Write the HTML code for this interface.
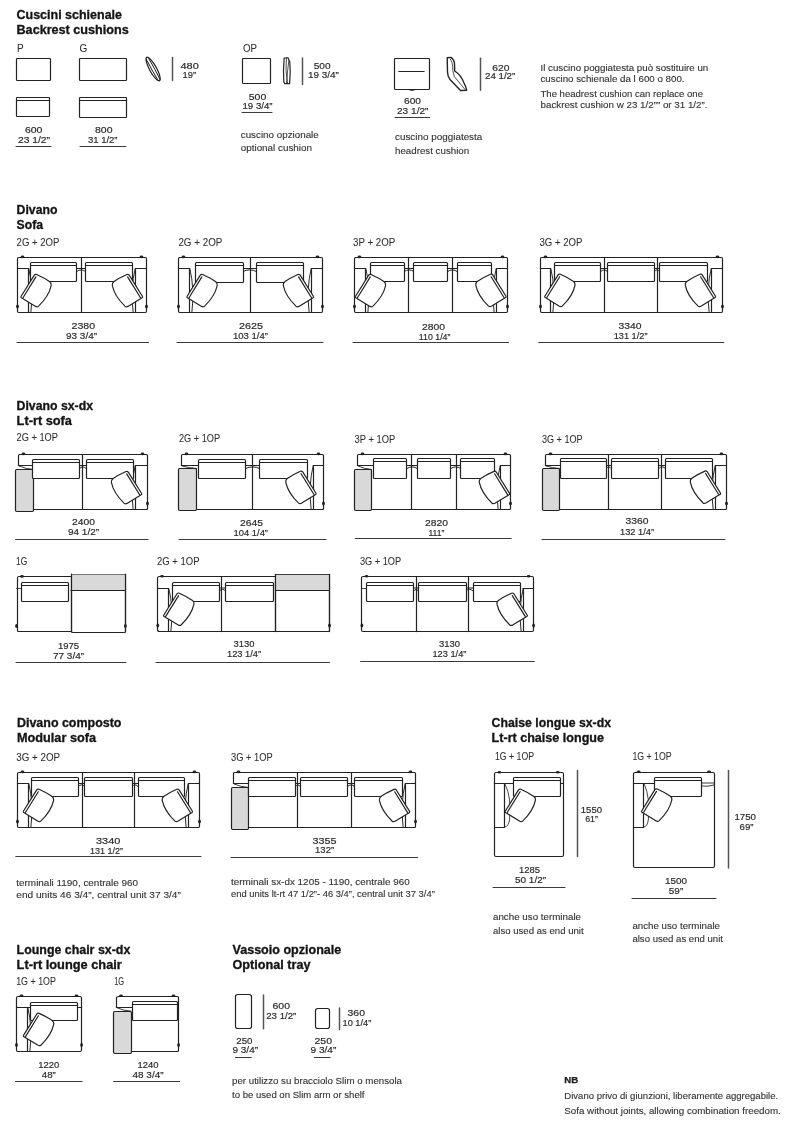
<!DOCTYPE html>
<html><head><meta charset="utf-8"><title>Sofa sizes</title>
<style>
html,body{margin:0;padding:0;background:#fff;}
body{width:799px;height:1129px;overflow:hidden;}
svg{display:block;font-family:"Liberation Sans",sans-serif;will-change:transform;}
</style></head><body>
<svg width="799" height="1129" viewBox="0 0 799 1129">
<rect width="799" height="1129" fill="#fff"/>
<g stroke-linecap="round" stroke-linejoin="round">
<rect x="16.5" y="58.5" width="34" height="22" rx="0.8" fill="none" stroke="#222222" stroke-width="1.2"/>
<rect x="79.5" y="58.5" width="47" height="22" rx="0.8" fill="none" stroke="#222222" stroke-width="1.2"/>
<rect x="16.5" y="97.5" width="33" height="19" rx="0.8" fill="none" stroke="#222222" stroke-width="1.2"/>
<line x1="16.8" y1="100.5" x2="49.2" y2="100.5" stroke="#222222" stroke-width="1.2"/>
<rect x="79.5" y="97.5" width="47" height="20" rx="0.8" fill="none" stroke="#222222" stroke-width="1.2"/>
<line x1="79.8" y1="100.5" x2="125.7" y2="100.5" stroke="#222222" stroke-width="1.2"/>
<g transform="translate(153.1,69) rotate(61.3)"><ellipse cx="0" cy="0" rx="13.3" ry="3.5" fill="#fff" stroke="#222222" stroke-width="1.25"/><path d="M-11.8,-1.2 Q0,-1.6 12.6,-1.0 M-11.8,1.3 Q0,1.7 12.6,1.1" stroke="#222222" stroke-width="0.9" fill="none"/></g>
<line x1="172.5" y1="57.5" x2="172.5" y2="80.5" stroke="#555" stroke-width="1.5"/>
<line x1="16" y1="146.5" x2="51" y2="146.5" stroke="#3a3a3a" stroke-width="1.1"/>
<line x1="80" y1="146.5" x2="125.75" y2="146.5" stroke="#3a3a3a" stroke-width="1.1"/>
<rect x="242.5" y="58.5" width="28" height="25" rx="0.8" fill="none" stroke="#222222" stroke-width="1.2"/>
<path d="M284.2,58 Q283,70 283.8,82 L284.6,83.6 L289.6,83.6 Q290.8,72 289.8,62 L288,57.8 Z" fill="#fff" stroke="#222222" stroke-width="1.2"/>
<path d="M286.4,58.5 Q285,70 287.5,83 M288.8,61 Q287.2,72 286.6,83" fill="none" stroke="#222222" stroke-width="0.8"/>
<line x1="302.5" y1="58" x2="302.5" y2="84.4" stroke="#555" stroke-width="1.5"/>
<line x1="242" y1="112.5" x2="272" y2="112.5" stroke="#3a3a3a" stroke-width="1.1"/>
<rect x="394.5" y="58.5" width="35" height="31" rx="0.8" fill="none" stroke="#222222" stroke-width="1.2"/>
<path d="M409,89.8 Q412,91.2 415,89.8" fill="none" stroke="#222222" stroke-width="1.0"/>
<line x1="398.8" y1="71.5" x2="424.1" y2="71.5" stroke="#222222" stroke-width="1.2"/>
<path d="M447.2,57.6 L451,57.4 Q454.5,60 454.5,64 L454.7,71 Q461,75 464,83 Q466.5,88 466.6,90.3 L460.5,90.5 L450,79.5 Q447.5,76 447.5,72 Z" fill="#fff" stroke="#222222" stroke-width="1.4"/>
<path d="M450.2,59 Q453,62 452.8,70.5 L454.3,76.5 L465,89.5" fill="none" stroke="#222222" stroke-width="0.8"/>
<line x1="480.5" y1="58.2" x2="480.5" y2="90.3" stroke="#555" stroke-width="1.5"/>
<line x1="395" y1="117.5" x2="429.7" y2="117.5" stroke="#3a3a3a" stroke-width="1.1"/>
<rect x="17.5" y="257.5" width="129" height="55" rx="1.2" fill="none" stroke="#222222" stroke-width="1.2"/>
<line x1="81.5" y1="257.5" x2="81.5" y2="312.5" stroke="#222222" stroke-width="1.2"/>
<line x1="17.5" y1="268.5" x2="28.5" y2="268.5" stroke="#222222" stroke-width="1.2"/>
<line x1="28.5" y1="268.5" x2="28.5" y2="312.5" stroke="#222222" stroke-width="1.2"/>
<path d="M28.9,269 Q33.7,288.3 30.9,312.2" fill="none" stroke="#2a2a2a" stroke-width="1.0"/>
<line x1="135.5" y1="268.5" x2="146.5" y2="268.5" stroke="#222222" stroke-width="1.2"/>
<line x1="135.5" y1="268.5" x2="135.5" y2="312.5" stroke="#222222" stroke-width="1.2"/>
<path d="M135.1,269 Q130.3,288.3 133.1,312.2" fill="none" stroke="#2a2a2a" stroke-width="1.0"/>
<path d="M76.8,268.5 L85.5,268.5 M76.8,271.5 Q81.15,268 85.5,271.5" fill="none" stroke="#222222" stroke-width="1.0"/>
<path d="M30.5,280.5 L30.5,263.5 Q30.5,262.5 31.5,262.5 L75.5,262.5 Q76.5,262.5 76.5,263.5 L76.5,280.5 Q76.5,281.5 75.5,281.5 L31.5,281.5 Q30.5,281.5 30.5,280.5 Z" fill="#fff" stroke="#222222" stroke-width="1.2"/>
<line x1="30.8" y1="265.5" x2="76.2" y2="265.5" stroke="#222222" stroke-width="1.0"/>
<path d="M85.5,280.5 L85.5,263.5 Q85.5,262.5 86.5,262.5 L131.5,262.5 Q132.5,262.5 132.5,263.5 L132.5,280.5 Q132.5,281.5 131.5,281.5 L86.5,281.5 Q85.5,281.5 85.5,280.5 Z" fill="#fff" stroke="#222222" stroke-width="1.2"/>
<line x1="85.8" y1="265.5" x2="132.2" y2="265.5" stroke="#222222" stroke-width="1.0"/>
<ellipse cx="22.5" cy="256.9" rx="1.9" ry="1.3" fill="#222222"/>
<ellipse cx="17.5" cy="306.5" rx="1.4" ry="2.0" fill="#222222"/>
<ellipse cx="141.5" cy="256.9" rx="1.9" ry="1.3" fill="#222222"/>
<ellipse cx="146.5" cy="306.5" rx="1.4" ry="2.0" fill="#222222"/>
<g transform="translate(21,296.5) scale(1.0,1.0)"><path d="M0,0 L13.3,-21.4 Q14.3,-22.6 15.6,-22 Q23.5,-18.5 28.8,-14.8 Q30.6,-13.2 30.2,-11 Q28,-0.5 17.6,9.6 Q16.3,10.8 14.6,9.9 L0.8,1.5 Q-0.6,0.8 0,0 Z" fill="#fff" stroke="#222222" stroke-width="1.2"/><path d="M2.0,1.2 L14.9,-19.6" fill="none" stroke="#222222" stroke-width="1.2"/></g>
<g transform="translate(142.5,296.5) scale(-1.0,1.0)"><path d="M0,0 L13.3,-21.4 Q14.3,-22.6 15.6,-22 Q23.5,-18.5 28.8,-14.8 Q30.6,-13.2 30.2,-11 Q28,-0.5 17.6,9.6 Q16.3,10.8 14.6,9.9 L0.8,1.5 Q-0.6,0.8 0,0 Z" fill="#fff" stroke="#222222" stroke-width="1.2"/><path d="M2.0,1.2 L14.9,-19.6" fill="none" stroke="#222222" stroke-width="1.2"/></g>
<line x1="17" y1="342.5" x2="148.5" y2="342.5" stroke="#3a3a3a" stroke-width="1.1"/>
<rect x="178.5" y="257.5" width="144" height="55" rx="1.2" fill="none" stroke="#222222" stroke-width="1.2"/>
<line x1="250.5" y1="257.5" x2="250.5" y2="312.5" stroke="#222222" stroke-width="1.2"/>
<line x1="178.5" y1="268.5" x2="189.5" y2="268.5" stroke="#222222" stroke-width="1.2"/>
<line x1="189.5" y1="268.5" x2="189.5" y2="312.5" stroke="#222222" stroke-width="1.2"/>
<path d="M189.9,269 Q194.7,288.3 191.9,312.2" fill="none" stroke="#2a2a2a" stroke-width="1.0"/>
<line x1="311.5" y1="268.5" x2="322.5" y2="268.5" stroke="#222222" stroke-width="1.2"/>
<line x1="311.5" y1="268.5" x2="311.5" y2="312.5" stroke="#222222" stroke-width="1.2"/>
<path d="M311.1,269 Q306.3,288.3 309.1,312.2" fill="none" stroke="#2a2a2a" stroke-width="1.0"/>
<path d="M243,268.5 L256.4,268.5 M243,271.5 Q249.7,268 256.4,271.5" fill="none" stroke="#222222" stroke-width="1.0"/>
<path d="M195.5,281.5 L195.5,263.5 Q195.5,262.5 196.5,262.5 L242.5,262.5 Q243.5,262.5 243.5,263.5 L243.5,281.5 Q243.5,282.5 242.5,282.5 L196.5,282.5 Q195.5,282.5 195.5,281.5 Z" fill="#fff" stroke="#222222" stroke-width="1.2"/>
<line x1="195.8" y1="265.5" x2="243.2" y2="265.5" stroke="#222222" stroke-width="1.0"/>
<path d="M256.5,281.5 L256.5,263.5 Q256.5,262.5 257.5,262.5 L302.5,262.5 Q303.5,262.5 303.5,263.5 L303.5,281.5 Q303.5,282.5 302.5,282.5 L257.5,282.5 Q256.5,282.5 256.5,281.5 Z" fill="#fff" stroke="#222222" stroke-width="1.2"/>
<line x1="256.8" y1="265.5" x2="303.2" y2="265.5" stroke="#222222" stroke-width="1.0"/>
<ellipse cx="183.5" cy="256.9" rx="1.9" ry="1.3" fill="#222222"/>
<ellipse cx="178.5" cy="306.5" rx="1.4" ry="2.0" fill="#222222"/>
<ellipse cx="317.5" cy="256.9" rx="1.9" ry="1.3" fill="#222222"/>
<ellipse cx="322.5" cy="306.5" rx="1.4" ry="2.0" fill="#222222"/>
<g transform="translate(187,296.5) scale(1.0,1.0)"><path d="M0,0 L13.3,-21.4 Q14.3,-22.6 15.6,-22 Q23.5,-18.5 28.8,-14.8 Q30.6,-13.2 30.2,-11 Q28,-0.5 17.6,9.6 Q16.3,10.8 14.6,9.9 L0.8,1.5 Q-0.6,0.8 0,0 Z" fill="#fff" stroke="#222222" stroke-width="1.2"/><path d="M2.0,1.2 L14.9,-19.6" fill="none" stroke="#222222" stroke-width="1.2"/></g>
<g transform="translate(313.5,296.5) scale(-1.0,1.0)"><path d="M0,0 L13.3,-21.4 Q14.3,-22.6 15.6,-22 Q23.5,-18.5 28.8,-14.8 Q30.6,-13.2 30.2,-11 Q28,-0.5 17.6,9.6 Q16.3,10.8 14.6,9.9 L0.8,1.5 Q-0.6,0.8 0,0 Z" fill="#fff" stroke="#222222" stroke-width="1.2"/><path d="M2.0,1.2 L14.9,-19.6" fill="none" stroke="#222222" stroke-width="1.2"/></g>
<line x1="177" y1="342.5" x2="323" y2="342.5" stroke="#3a3a3a" stroke-width="1.1"/>
<rect x="354.5" y="257.5" width="153" height="55" rx="1.2" fill="none" stroke="#222222" stroke-width="1.2"/>
<line x1="408.5" y1="257.5" x2="408.5" y2="312.5" stroke="#222222" stroke-width="1.2"/>
<line x1="452.5" y1="257.5" x2="452.5" y2="312.5" stroke="#222222" stroke-width="1.2"/>
<line x1="354.5" y1="268.5" x2="365.5" y2="268.5" stroke="#222222" stroke-width="1.2"/>
<line x1="365.5" y1="268.5" x2="365.5" y2="312.5" stroke="#222222" stroke-width="1.2"/>
<path d="M365.9,269 Q370.7,288.3 367.9,312.2" fill="none" stroke="#2a2a2a" stroke-width="1.0"/>
<line x1="496.5" y1="268.5" x2="507.5" y2="268.5" stroke="#222222" stroke-width="1.2"/>
<line x1="496.5" y1="268.5" x2="496.5" y2="312.5" stroke="#222222" stroke-width="1.2"/>
<path d="M496.1,269 Q491.3,288.3 494.1,312.2" fill="none" stroke="#2a2a2a" stroke-width="1.0"/>
<path d="M404.2,268.5 L413.9,268.5 M404.2,271.5 Q409.05,268 413.9,271.5" fill="none" stroke="#222222" stroke-width="1.0"/>
<path d="M447.7,268.5 L457,268.5 M447.7,271.5 Q452.35,268 457,271.5" fill="none" stroke="#222222" stroke-width="1.0"/>
<path d="M370.5,280.5 L370.5,263.5 Q370.5,262.5 371.5,262.5 L403.5,262.5 Q404.5,262.5 404.5,263.5 L404.5,280.5 Q404.5,281.5 403.5,281.5 L371.5,281.5 Q370.5,281.5 370.5,280.5 Z" fill="#fff" stroke="#222222" stroke-width="1.2"/>
<line x1="370.8" y1="265.5" x2="404.2" y2="265.5" stroke="#222222" stroke-width="1.0"/>
<path d="M413.5,280.5 L413.5,263.5 Q413.5,262.5 414.5,262.5 L446.5,262.5 Q447.5,262.5 447.5,263.5 L447.5,280.5 Q447.5,281.5 446.5,281.5 L414.5,281.5 Q413.5,281.5 413.5,280.5 Z" fill="#fff" stroke="#222222" stroke-width="1.2"/>
<line x1="413.8" y1="265.5" x2="447.2" y2="265.5" stroke="#222222" stroke-width="1.0"/>
<path d="M457.5,280.5 L457.5,263.5 Q457.5,262.5 458.5,262.5 L490.5,262.5 Q491.5,262.5 491.5,263.5 L491.5,280.5 Q491.5,281.5 490.5,281.5 L458.5,281.5 Q457.5,281.5 457.5,280.5 Z" fill="#fff" stroke="#222222" stroke-width="1.2"/>
<line x1="457.8" y1="265.5" x2="491.2" y2="265.5" stroke="#222222" stroke-width="1.0"/>
<ellipse cx="359.5" cy="256.9" rx="1.9" ry="1.3" fill="#222222"/>
<ellipse cx="354.5" cy="306.5" rx="1.4" ry="2.0" fill="#222222"/>
<ellipse cx="502.5" cy="256.9" rx="1.9" ry="1.3" fill="#222222"/>
<ellipse cx="507.5" cy="306.5" rx="1.4" ry="2.0" fill="#222222"/>
<g transform="translate(355.4,296.5) scale(1.0,1.0)"><path d="M0,0 L13.3,-21.4 Q14.3,-22.6 15.6,-22 Q23.5,-18.5 28.8,-14.8 Q30.6,-13.2 30.2,-11 Q28,-0.5 17.6,9.6 Q16.3,10.8 14.6,9.9 L0.8,1.5 Q-0.6,0.8 0,0 Z" fill="#fff" stroke="#222222" stroke-width="1.2"/><path d="M2.0,1.2 L14.9,-19.6" fill="none" stroke="#222222" stroke-width="1.2"/></g>
<g transform="translate(506,296.3) scale(-1.0,1.0)"><path d="M0,0 L13.3,-21.4 Q14.3,-22.6 15.6,-22 Q23.5,-18.5 28.8,-14.8 Q30.6,-13.2 30.2,-11 Q28,-0.5 17.6,9.6 Q16.3,10.8 14.6,9.9 L0.8,1.5 Q-0.6,0.8 0,0 Z" fill="#fff" stroke="#222222" stroke-width="1.2"/><path d="M2.0,1.2 L14.9,-19.6" fill="none" stroke="#222222" stroke-width="1.2"/></g>
<line x1="353" y1="342.5" x2="508.5" y2="342.5" stroke="#3a3a3a" stroke-width="1.1"/>
<rect x="540.5" y="257.5" width="182" height="55" rx="1.2" fill="none" stroke="#222222" stroke-width="1.2"/>
<line x1="604.5" y1="257.5" x2="604.5" y2="312.5" stroke="#222222" stroke-width="1.2"/>
<line x1="657.5" y1="257.5" x2="657.5" y2="312.5" stroke="#222222" stroke-width="1.2"/>
<line x1="540.5" y1="268.5" x2="550.5" y2="268.5" stroke="#222222" stroke-width="1.2"/>
<line x1="550.5" y1="268.5" x2="550.5" y2="312.5" stroke="#222222" stroke-width="1.2"/>
<path d="M550.9,269 Q555.7,288.3 552.9,312.2" fill="none" stroke="#2a2a2a" stroke-width="1.0"/>
<line x1="711.5" y1="268.5" x2="722.5" y2="268.5" stroke="#222222" stroke-width="1.2"/>
<line x1="711.5" y1="268.5" x2="711.5" y2="312.5" stroke="#222222" stroke-width="1.2"/>
<path d="M711.1,269 Q706.3,288.3 709.1,312.2" fill="none" stroke="#2a2a2a" stroke-width="1.0"/>
<path d="M600.75,268.5 L607.5,268.5 M600.75,271.5 Q604.12,268 607.5,271.5" fill="none" stroke="#222222" stroke-width="1.0"/>
<path d="M654.25,268.5 L659.5,268.5 M654.25,271.5 Q656.88,268 659.5,271.5" fill="none" stroke="#222222" stroke-width="1.0"/>
<path d="M554.5,280.5 L554.5,263.5 Q554.5,262.5 555.5,262.5 L599.5,262.5 Q600.5,262.5 600.5,263.5 L600.5,280.5 Q600.5,281.5 599.5,281.5 L555.5,281.5 Q554.5,281.5 554.5,280.5 Z" fill="#fff" stroke="#222222" stroke-width="1.2"/>
<line x1="554.8" y1="265.5" x2="600.2" y2="265.5" stroke="#222222" stroke-width="1.0"/>
<path d="M607.5,280.5 L607.5,263.5 Q607.5,262.5 608.5,262.5 L653.5,262.5 Q654.5,262.5 654.5,263.5 L654.5,280.5 Q654.5,281.5 653.5,281.5 L608.5,281.5 Q607.5,281.5 607.5,280.5 Z" fill="#fff" stroke="#222222" stroke-width="1.2"/>
<line x1="607.8" y1="265.5" x2="654.2" y2="265.5" stroke="#222222" stroke-width="1.0"/>
<path d="M659.5,280.5 L659.5,263.5 Q659.5,262.5 660.5,262.5 L706.5,262.5 Q707.5,262.5 707.5,263.5 L707.5,280.5 Q707.5,281.5 706.5,281.5 L660.5,281.5 Q659.5,281.5 659.5,280.5 Z" fill="#fff" stroke="#222222" stroke-width="1.2"/>
<line x1="659.8" y1="265.5" x2="707.2" y2="265.5" stroke="#222222" stroke-width="1.0"/>
<ellipse cx="545.5" cy="256.9" rx="1.9" ry="1.3" fill="#222222"/>
<ellipse cx="540.5" cy="306.5" rx="1.4" ry="2.0" fill="#222222"/>
<ellipse cx="717.5" cy="256.9" rx="1.9" ry="1.3" fill="#222222"/>
<ellipse cx="722.5" cy="306.5" rx="1.4" ry="2.0" fill="#222222"/>
<g transform="translate(544.8,296.3) scale(1.0,1.0)"><path d="M0,0 L13.3,-21.4 Q14.3,-22.6 15.6,-22 Q23.5,-18.5 28.8,-14.8 Q30.6,-13.2 30.2,-11 Q28,-0.5 17.6,9.6 Q16.3,10.8 14.6,9.9 L0.8,1.5 Q-0.6,0.8 0,0 Z" fill="#fff" stroke="#222222" stroke-width="1.2"/><path d="M2.0,1.2 L14.9,-19.6" fill="none" stroke="#222222" stroke-width="1.2"/></g>
<g transform="translate(715.5,296.3) scale(-1.0,1.0)"><path d="M0,0 L13.3,-21.4 Q14.3,-22.6 15.6,-22 Q23.5,-18.5 28.8,-14.8 Q30.6,-13.2 30.2,-11 Q28,-0.5 17.6,9.6 Q16.3,10.8 14.6,9.9 L0.8,1.5 Q-0.6,0.8 0,0 Z" fill="#fff" stroke="#222222" stroke-width="1.2"/><path d="M2.0,1.2 L14.9,-19.6" fill="none" stroke="#222222" stroke-width="1.2"/></g>
<line x1="538.75" y1="342.5" x2="723.75" y2="342.5" stroke="#3a3a3a" stroke-width="1.1"/>
<path d="M18.5,465.5 L18.5,455.5 Q18.5,454.5 19.5,454.5 L146.5,454.5 Q147.5,454.5 147.5,455.5 L147.5,508.5 Q147.5,509.5 146.5,509.5 L33.5,509.5" fill="none" stroke="#222222" stroke-width="1.2"/>
<line x1="18.5" y1="465.5" x2="32.5" y2="465.5" stroke="#222222" stroke-width="1.2"/>
<path d="M19,466 Q26,469 33.5,469.5" fill="none" stroke="#222222" stroke-width="0.9"/>
<rect x="15.5" y="469.5" width="18" height="42" rx="1.2" fill="#d9d9d9" stroke="#222222" stroke-width="1.2"/>
<line x1="82.5" y1="454.5" x2="82.5" y2="509.5" stroke="#222222" stroke-width="1.2"/>
<line x1="135.5" y1="465.5" x2="147.5" y2="465.5" stroke="#222222" stroke-width="1.2"/>
<line x1="135.5" y1="465.5" x2="135.5" y2="509.5" stroke="#222222" stroke-width="1.2"/>
<path d="M135.1,466 Q130.3,485.3 133.1,509.2" fill="none" stroke="#2a2a2a" stroke-width="1.0"/>
<path d="M79.5,465.5 L86,465.5 M79.5,468.5 Q82.75,465 86,468.5" fill="none" stroke="#222222" stroke-width="1.0"/>
<path d="M32.5,477.5 L32.5,460.5 Q32.5,459.5 33.5,459.5 L78.5,459.5 Q79.5,459.5 79.5,460.5 L79.5,477.5 Q79.5,478.5 78.5,478.5 L33.5,478.5 Q32.5,478.5 32.5,477.5 Z" fill="#fff" stroke="#222222" stroke-width="1.2"/>
<line x1="32.8" y1="462.5" x2="79.2" y2="462.5" stroke="#222222" stroke-width="1.0"/>
<path d="M86.5,477.5 L86.5,460.5 Q86.5,459.5 87.5,459.5 L132.5,459.5 Q133.5,459.5 133.5,460.5 L133.5,477.5 Q133.5,478.5 132.5,478.5 L87.5,478.5 Q86.5,478.5 86.5,477.5 Z" fill="#fff" stroke="#222222" stroke-width="1.2"/>
<line x1="86.8" y1="462.5" x2="133.2" y2="462.5" stroke="#222222" stroke-width="1.0"/>
<ellipse cx="23.5" cy="453.9" rx="1.9" ry="1.3" fill="#222222"/>
<ellipse cx="142.5" cy="453.9" rx="1.9" ry="1.3" fill="#222222"/>
<ellipse cx="147.5" cy="503.5" rx="1.4" ry="2.0" fill="#222222"/>
<g transform="translate(141.6,493.5) scale(-1.0,1.0)"><path d="M0,0 L13.3,-21.4 Q14.3,-22.6 15.6,-22 Q23.5,-18.5 28.8,-14.8 Q30.6,-13.2 30.2,-11 Q28,-0.5 17.6,9.6 Q16.3,10.8 14.6,9.9 L0.8,1.5 Q-0.6,0.8 0,0 Z" fill="#fff" stroke="#222222" stroke-width="1.2"/><path d="M2.0,1.2 L14.9,-19.6" fill="none" stroke="#222222" stroke-width="1.2"/></g>
<line x1="15.6" y1="539.5" x2="148" y2="539.5" stroke="#3a3a3a" stroke-width="1.1"/>
<path d="M181.5,465.5 L181.5,455.5 Q181.5,454.5 182.5,454.5 L322.5,454.5 Q323.5,454.5 323.5,455.5 L323.5,508.5 Q323.5,509.5 322.5,509.5 L196.5,509.5" fill="none" stroke="#222222" stroke-width="1.2"/>
<line x1="181.5" y1="465.5" x2="198.4" y2="465.5" stroke="#222222" stroke-width="1.2"/>
<path d="M182,466 Q189,468 196.5,468.5" fill="none" stroke="#222222" stroke-width="0.9"/>
<rect x="178.5" y="468.5" width="18" height="42" rx="1.2" fill="#d9d9d9" stroke="#222222" stroke-width="1.2"/>
<line x1="252.5" y1="454.5" x2="252.5" y2="509.5" stroke="#222222" stroke-width="1.2"/>
<line x1="313.5" y1="465.5" x2="323.5" y2="465.5" stroke="#222222" stroke-width="1.2"/>
<line x1="313.5" y1="465.5" x2="313.5" y2="509.5" stroke="#222222" stroke-width="1.2"/>
<path d="M313.1,466 Q308.3,485.3 311.1,509.2" fill="none" stroke="#2a2a2a" stroke-width="1.0"/>
<path d="M245.6,465.5 L259.6,465.5 M245.6,468.5 Q252.6,465 259.6,468.5" fill="none" stroke="#222222" stroke-width="1.0"/>
<path d="M198.5,477.5 L198.5,460.5 Q198.5,459.5 199.5,459.5 L244.5,459.5 Q245.5,459.5 245.5,460.5 L245.5,477.5 Q245.5,478.5 244.5,478.5 L199.5,478.5 Q198.5,478.5 198.5,477.5 Z" fill="#fff" stroke="#222222" stroke-width="1.2"/>
<line x1="198.8" y1="462.5" x2="245.2" y2="462.5" stroke="#222222" stroke-width="1.0"/>
<path d="M259.5,477.5 L259.5,460.5 Q259.5,459.5 260.5,459.5 L306.5,459.5 Q307.5,459.5 307.5,460.5 L307.5,477.5 Q307.5,478.5 306.5,478.5 L260.5,478.5 Q259.5,478.5 259.5,477.5 Z" fill="#fff" stroke="#222222" stroke-width="1.2"/>
<line x1="259.8" y1="462.5" x2="307.2" y2="462.5" stroke="#222222" stroke-width="1.0"/>
<ellipse cx="186.5" cy="453.9" rx="1.9" ry="1.3" fill="#222222"/>
<ellipse cx="318.5" cy="453.9" rx="1.9" ry="1.3" fill="#222222"/>
<ellipse cx="323.5" cy="503.5" rx="1.4" ry="2.0" fill="#222222"/>
<g transform="translate(316,493.3) scale(-1.0,1.0)"><path d="M0,0 L13.3,-21.4 Q14.3,-22.6 15.6,-22 Q23.5,-18.5 28.8,-14.8 Q30.6,-13.2 30.2,-11 Q28,-0.5 17.6,9.6 Q16.3,10.8 14.6,9.9 L0.8,1.5 Q-0.6,0.8 0,0 Z" fill="#fff" stroke="#222222" stroke-width="1.2"/><path d="M2.0,1.2 L14.9,-19.6" fill="none" stroke="#222222" stroke-width="1.2"/></g>
<line x1="179" y1="539.5" x2="326" y2="539.5" stroke="#3a3a3a" stroke-width="1.1"/>
<path d="M357.5,465.5 L357.5,455.5 Q357.5,454.5 358.5,454.5 L509.5,454.5 Q510.5,454.5 510.5,455.5 L510.5,508.5 Q510.5,509.5 509.5,509.5 L371.5,509.5" fill="none" stroke="#222222" stroke-width="1.2"/>
<line x1="357.5" y1="465.5" x2="373.3" y2="465.5" stroke="#222222" stroke-width="1.2"/>
<path d="M358,466 Q364.5,469 371.5,469.5" fill="none" stroke="#222222" stroke-width="0.9"/>
<rect x="354.5" y="469.5" width="17" height="41" rx="1.2" fill="#d9d9d9" stroke="#222222" stroke-width="1.2"/>
<line x1="411.5" y1="454.5" x2="411.5" y2="509.5" stroke="#222222" stroke-width="1.2"/>
<line x1="456.5" y1="454.5" x2="456.5" y2="509.5" stroke="#222222" stroke-width="1.2"/>
<line x1="500.5" y1="465.5" x2="510.5" y2="465.5" stroke="#222222" stroke-width="1.2"/>
<line x1="500.5" y1="465.5" x2="500.5" y2="509.5" stroke="#222222" stroke-width="1.2"/>
<path d="M500.1,466 Q495.3,485.3 498.1,509.2" fill="none" stroke="#2a2a2a" stroke-width="1.0"/>
<path d="M406.9,465.5 L417.3,465.5 M406.9,468.5 Q412.1,465 417.3,468.5" fill="none" stroke="#222222" stroke-width="1.0"/>
<path d="M450.8,465.5 L460.5,465.5 M450.8,468.5 Q455.65,465 460.5,468.5" fill="none" stroke="#222222" stroke-width="1.0"/>
<path d="M373.5,477.5 L373.5,459.5 Q373.5,458.5 374.5,458.5 L405.5,458.5 Q406.5,458.5 406.5,459.5 L406.5,477.5 Q406.5,478.5 405.5,478.5 L374.5,478.5 Q373.5,478.5 373.5,477.5 Z" fill="#fff" stroke="#222222" stroke-width="1.2"/>
<line x1="373.8" y1="461.5" x2="406.2" y2="461.5" stroke="#222222" stroke-width="1.0"/>
<path d="M417.5,477.5 L417.5,459.5 Q417.5,458.5 418.5,458.5 L449.5,458.5 Q450.5,458.5 450.5,459.5 L450.5,477.5 Q450.5,478.5 449.5,478.5 L418.5,478.5 Q417.5,478.5 417.5,477.5 Z" fill="#fff" stroke="#222222" stroke-width="1.2"/>
<line x1="417.8" y1="461.5" x2="450.2" y2="461.5" stroke="#222222" stroke-width="1.0"/>
<path d="M460.5,477.5 L460.5,459.5 Q460.5,458.5 461.5,458.5 L493.5,458.5 Q494.5,458.5 494.5,459.5 L494.5,477.5 Q494.5,478.5 493.5,478.5 L461.5,478.5 Q460.5,478.5 460.5,477.5 Z" fill="#fff" stroke="#222222" stroke-width="1.2"/>
<line x1="460.8" y1="461.5" x2="494.2" y2="461.5" stroke="#222222" stroke-width="1.0"/>
<ellipse cx="362.5" cy="453.9" rx="1.9" ry="1.3" fill="#222222"/>
<ellipse cx="505.5" cy="453.9" rx="1.9" ry="1.3" fill="#222222"/>
<ellipse cx="510.5" cy="503.5" rx="1.4" ry="2.0" fill="#222222"/>
<g transform="translate(509.5,493.4) scale(-1.0,1.0)"><path d="M0,0 L13.3,-21.4 Q14.3,-22.6 15.6,-22 Q23.5,-18.5 28.8,-14.8 Q30.6,-13.2 30.2,-11 Q28,-0.5 17.6,9.6 Q16.3,10.8 14.6,9.9 L0.8,1.5 Q-0.6,0.8 0,0 Z" fill="#fff" stroke="#222222" stroke-width="1.2"/><path d="M2.0,1.2 L14.9,-19.6" fill="none" stroke="#222222" stroke-width="1.2"/></g>
<line x1="355.3" y1="538.5" x2="511.2" y2="538.5" stroke="#3a3a3a" stroke-width="1.1"/>
<path d="M545.5,465.5 L545.5,455.5 Q545.5,454.5 546.5,454.5 L725.5,454.5 Q726.5,454.5 726.5,455.5 L726.5,508.5 Q726.5,509.5 725.5,509.5 L559.5,509.5" fill="none" stroke="#222222" stroke-width="1.2"/>
<line x1="545.5" y1="465.5" x2="560" y2="465.5" stroke="#222222" stroke-width="1.2"/>
<path d="M546,466 Q552.5,468 559.5,468.5" fill="none" stroke="#222222" stroke-width="0.9"/>
<rect x="542.5" y="468.5" width="17" height="42" rx="1.2" fill="#d9d9d9" stroke="#222222" stroke-width="1.2"/>
<line x1="608.5" y1="454.5" x2="608.5" y2="509.5" stroke="#222222" stroke-width="1.2"/>
<line x1="661.5" y1="454.5" x2="661.5" y2="509.5" stroke="#222222" stroke-width="1.2"/>
<line x1="715.5" y1="465.5" x2="726.5" y2="465.5" stroke="#222222" stroke-width="1.2"/>
<line x1="715.5" y1="465.5" x2="715.5" y2="509.5" stroke="#222222" stroke-width="1.2"/>
<path d="M715.1,466 Q710.3,485.3 713.1,509.2" fill="none" stroke="#2a2a2a" stroke-width="1.0"/>
<path d="M606.25,465.5 L611.25,465.5 M606.25,468.5 Q608.75,465 611.25,468.5" fill="none" stroke="#222222" stroke-width="1.0"/>
<path d="M658.75,465.5 L665.5,465.5 M658.75,468.5 Q662.12,465 665.5,468.5" fill="none" stroke="#222222" stroke-width="1.0"/>
<path d="M560.5,477.5 L560.5,459.5 Q560.5,458.5 561.5,458.5 L605.5,458.5 Q606.5,458.5 606.5,459.5 L606.5,477.5 Q606.5,478.5 605.5,478.5 L561.5,478.5 Q560.5,478.5 560.5,477.5 Z" fill="#fff" stroke="#222222" stroke-width="1.2"/>
<line x1="560.8" y1="461.5" x2="606.2" y2="461.5" stroke="#222222" stroke-width="1.0"/>
<path d="M611.5,477.5 L611.5,459.5 Q611.5,458.5 612.5,458.5 L657.5,458.5 Q658.5,458.5 658.5,459.5 L658.5,477.5 Q658.5,478.5 657.5,478.5 L612.5,478.5 Q611.5,478.5 611.5,477.5 Z" fill="#fff" stroke="#222222" stroke-width="1.2"/>
<line x1="611.8" y1="461.5" x2="658.2" y2="461.5" stroke="#222222" stroke-width="1.0"/>
<path d="M665.5,477.5 L665.5,459.5 Q665.5,458.5 666.5,458.5 L711.5,458.5 Q712.5,458.5 712.5,459.5 L712.5,477.5 Q712.5,478.5 711.5,478.5 L666.5,478.5 Q665.5,478.5 665.5,477.5 Z" fill="#fff" stroke="#222222" stroke-width="1.2"/>
<line x1="665.8" y1="461.5" x2="712.2" y2="461.5" stroke="#222222" stroke-width="1.0"/>
<ellipse cx="550.5" cy="453.9" rx="1.9" ry="1.3" fill="#222222"/>
<ellipse cx="721.5" cy="453.9" rx="1.9" ry="1.3" fill="#222222"/>
<ellipse cx="726.5" cy="503.5" rx="1.4" ry="2.0" fill="#222222"/>
<g transform="translate(720.5,493.1) scale(-1.0,1.0)"><path d="M0,0 L13.3,-21.4 Q14.3,-22.6 15.6,-22 Q23.5,-18.5 28.8,-14.8 Q30.6,-13.2 30.2,-11 Q28,-0.5 17.6,9.6 Q16.3,10.8 14.6,9.9 L0.8,1.5 Q-0.6,0.8 0,0 Z" fill="#fff" stroke="#222222" stroke-width="1.2"/><path d="M2.0,1.2 L14.9,-19.6" fill="none" stroke="#222222" stroke-width="1.2"/></g>
<line x1="542" y1="539.5" x2="725" y2="539.5" stroke="#3a3a3a" stroke-width="1.1"/>
<path d="M71.5,576.5 L18.5,576.5 Q17.5,576.5 17.5,578.5 L17.5,630.5 Q17.5,631.5 18.5,631.5 L71.5,631.5" fill="none" stroke="#222222" stroke-width="1.2"/>
<rect x="71.5" y="574.5" width="54" height="58" rx="1.2" fill="none" stroke="#222222" stroke-width="1.2"/>
<rect x="71.55" y="574.55" width="53.3" height="15.45" fill="#d9d9d9"/>
<line x1="71" y1="590.5" x2="125.4" y2="590.5" stroke="#222222" stroke-width="1.2"/>
<line x1="71.5" y1="574" x2="71.5" y2="632" stroke="#222222" stroke-width="1.2"/>
<line x1="125.5" y1="574" x2="125.5" y2="632" stroke="#222222" stroke-width="1.2"/>
<line x1="16.5" y1="588.5" x2="21" y2="588.5" stroke="#222222" stroke-width="0.8"/>
<path d="M21.5,600.5 L21.5,583.5 Q21.5,582.5 22.5,582.5 L67.5,582.5 Q68.5,582.5 68.5,583.5 L68.5,600.5 Q68.5,601.5 67.5,601.5 L22.5,601.5 Q21.5,601.5 21.5,600.5 Z" fill="#fff" stroke="#222222" stroke-width="1.2"/>
<line x1="21.8" y1="585.5" x2="68.2" y2="585.5" stroke="#222222" stroke-width="1.0"/>
<ellipse cx="22" cy="576.4" rx="1.9" ry="1.3" fill="#222222"/>
<ellipse cx="16.5" cy="626" rx="1.4" ry="2.0" fill="#222222"/>
<ellipse cx="125.4" cy="626" rx="1.4" ry="2.0" fill="#222222"/>
<line x1="16" y1="662.5" x2="125.8" y2="662.5" stroke="#3a3a3a" stroke-width="1.1"/>
<path d="M275.5,576.5 L159.5,576.5 Q157.5,576.5 157.5,578.5 L157.5,629.5 Q157.5,631.5 159.5,631.5 L275.5,631.5" fill="none" stroke="#222222" stroke-width="1.2"/>
<line x1="157.8" y1="588.5" x2="168.5" y2="588.5" stroke="#222222" stroke-width="1.2"/>
<line x1="168.5" y1="588.5" x2="168.5" y2="631.5" stroke="#222222" stroke-width="1.2"/>
<path d="M168.9,589 Q173.7,607.85 170.9,631.2" fill="none" stroke="#2a2a2a" stroke-width="1.0"/>
<line x1="221.5" y1="576.6" x2="221.5" y2="631.6" stroke="#222222" stroke-width="1.2"/>
<rect x="275.5" y="574.5" width="54" height="57" rx="1.2" fill="none" stroke="#222222" stroke-width="1.2"/>
<rect x="276.15" y="574.85" width="52.8" height="15.55" fill="#d9d9d9"/>
<line x1="275.6" y1="590.5" x2="329.5" y2="590.5" stroke="#222222" stroke-width="1.2"/>
<line x1="275.5" y1="574.3" x2="275.5" y2="631.6" stroke="#222222" stroke-width="1.2"/>
<line x1="329.5" y1="574.3" x2="329.5" y2="631.6" stroke="#222222" stroke-width="1.2"/>
<path d="M219.4,588 L225.6,588 M219.4,591 Q222.5,587.5 225.6,591" fill="none" stroke="#222222" stroke-width="1.0"/>
<path d="M172.5,600.5 L172.5,583.5 Q172.5,582.5 173.5,582.5 L218.5,582.5 Q219.5,582.5 219.5,583.5 L219.5,600.5 Q219.5,601.5 218.5,601.5 L173.5,601.5 Q172.5,601.5 172.5,600.5 Z" fill="#fff" stroke="#222222" stroke-width="1.2"/>
<line x1="172.8" y1="585.5" x2="219.2" y2="585.5" stroke="#222222" stroke-width="1.0"/>
<path d="M225.5,600.5 L225.5,583.5 Q225.5,582.5 226.5,582.5 L272.5,582.5 Q273.5,582.5 273.5,583.5 L273.5,600.5 Q273.5,601.5 272.5,601.5 L226.5,601.5 Q225.5,601.5 225.5,600.5 Z" fill="#fff" stroke="#222222" stroke-width="1.2"/>
<line x1="225.8" y1="585.5" x2="273.2" y2="585.5" stroke="#222222" stroke-width="1.0"/>
<g transform="translate(163.7,615.2) scale(1.0,1.0)"><path d="M0,0 L13.3,-21.4 Q14.3,-22.6 15.6,-22 Q23.5,-18.5 28.8,-14.8 Q30.6,-13.2 30.2,-11 Q28,-0.5 17.6,9.6 Q16.3,10.8 14.6,9.9 L0.8,1.5 Q-0.6,0.8 0,0 Z" fill="#fff" stroke="#222222" stroke-width="1.2"/><path d="M2.0,1.2 L14.9,-19.6" fill="none" stroke="#222222" stroke-width="1.2"/></g>
<ellipse cx="162" cy="576.3" rx="1.9" ry="1.3" fill="#222222"/>
<ellipse cx="157.8" cy="625.5" rx="1.4" ry="2.0" fill="#222222"/>
<ellipse cx="329.5" cy="625.5" rx="1.4" ry="2.0" fill="#222222"/>
<line x1="156" y1="662.5" x2="329.5" y2="662.5" stroke="#3a3a3a" stroke-width="1.1"/>
<rect x="361.5" y="576.5" width="172" height="55" rx="1.5" fill="none" stroke="#222222" stroke-width="1.2"/>
<line x1="416.5" y1="576.6" x2="416.5" y2="631.6" stroke="#222222" stroke-width="1.2"/>
<line x1="468.5" y1="576.6" x2="468.5" y2="631.6" stroke="#222222" stroke-width="1.2"/>
<line x1="361.9" y1="588.5" x2="366.2" y2="588.5" stroke="#222222" stroke-width="0.8"/>
<line x1="523" y1="588.5" x2="533.6" y2="588.5" stroke="#222222" stroke-width="1.2"/>
<line x1="523.5" y1="588.5" x2="523.5" y2="631.5" stroke="#222222" stroke-width="1.2"/>
<path d="M523.1,589 Q518.3,607.85 521.1,631.2" fill="none" stroke="#2a2a2a" stroke-width="1.0"/>
<path d="M413.7,588 L418.5,588 M413.7,591 Q416.1,587.5 418.5,591" fill="none" stroke="#222222" stroke-width="1.0"/>
<path d="M466,588 L473.2,588 M466,591 Q469.6,587.5 473.2,591" fill="none" stroke="#222222" stroke-width="1.0"/>
<path d="M366.5,600.5 L366.5,583.5 Q366.5,582.5 367.5,582.5 L412.5,582.5 Q413.5,582.5 413.5,583.5 L413.5,600.5 Q413.5,601.5 412.5,601.5 L367.5,601.5 Q366.5,601.5 366.5,600.5 Z" fill="#fff" stroke="#222222" stroke-width="1.2"/>
<line x1="366.8" y1="585.5" x2="413.2" y2="585.5" stroke="#222222" stroke-width="1.0"/>
<path d="M418.5,600.5 L418.5,583.5 Q418.5,582.5 419.5,582.5 L465.5,582.5 Q466.5,582.5 466.5,583.5 L466.5,600.5 Q466.5,601.5 465.5,601.5 L419.5,601.5 Q418.5,601.5 418.5,600.5 Z" fill="#fff" stroke="#222222" stroke-width="1.2"/>
<line x1="418.8" y1="585.5" x2="466.2" y2="585.5" stroke="#222222" stroke-width="1.0"/>
<path d="M473.5,600.5 L473.5,583.5 Q473.5,582.5 474.5,582.5 L519.5,582.5 Q520.5,582.5 520.5,583.5 L520.5,600.5 Q520.5,601.5 519.5,601.5 L474.5,601.5 Q473.5,601.5 473.5,600.5 Z" fill="#fff" stroke="#222222" stroke-width="1.2"/>
<line x1="473.8" y1="585.5" x2="520.2" y2="585.5" stroke="#222222" stroke-width="1.0"/>
<g transform="translate(527.2,615.2) scale(-1.0,1.0)"><path d="M0,0 L13.3,-21.4 Q14.3,-22.6 15.6,-22 Q23.5,-18.5 28.8,-14.8 Q30.6,-13.2 30.2,-11 Q28,-0.5 17.6,9.6 Q16.3,10.8 14.6,9.9 L0.8,1.5 Q-0.6,0.8 0,0 Z" fill="#fff" stroke="#222222" stroke-width="1.2"/><path d="M2.0,1.2 L14.9,-19.6" fill="none" stroke="#222222" stroke-width="1.2"/></g>
<ellipse cx="366.5" cy="576.3" rx="1.9" ry="1.3" fill="#222222"/>
<ellipse cx="361.9" cy="625.5" rx="1.4" ry="2.0" fill="#222222"/>
<ellipse cx="528.6" cy="576.3" rx="1.9" ry="1.3" fill="#222222"/>
<ellipse cx="533.6" cy="625.5" rx="1.4" ry="2.0" fill="#222222"/>
<line x1="360.7" y1="661.5" x2="534.3" y2="661.5" stroke="#3a3a3a" stroke-width="1.1"/>
<rect x="17.5" y="772.5" width="182" height="55" rx="1.2" fill="none" stroke="#222222" stroke-width="1.2"/>
<line x1="82.5" y1="772.5" x2="82.5" y2="827.5" stroke="#222222" stroke-width="1.2"/>
<line x1="134.5" y1="772.5" x2="134.5" y2="827.5" stroke="#222222" stroke-width="1.2"/>
<line x1="17.5" y1="783.5" x2="28.5" y2="783.5" stroke="#222222" stroke-width="1.2"/>
<line x1="28.5" y1="783.5" x2="28.5" y2="827.5" stroke="#222222" stroke-width="1.2"/>
<path d="M28.9,784 Q33.7,803.3 30.9,827.2" fill="none" stroke="#2a2a2a" stroke-width="1.0"/>
<line x1="188.5" y1="783.5" x2="199.5" y2="783.5" stroke="#222222" stroke-width="1.2"/>
<line x1="188.5" y1="783.5" x2="188.5" y2="827.5" stroke="#222222" stroke-width="1.2"/>
<path d="M188.1,784 Q183.3,803.3 186.1,827.2" fill="none" stroke="#2a2a2a" stroke-width="1.0"/>
<path d="M78.3,783.5 L84.6,783.5 M78.3,786.5 Q81.45,783 84.6,786.5" fill="none" stroke="#222222" stroke-width="1.0"/>
<path d="M132,783.5 L138,783.5 M132,786.5 Q135,783 138,786.5" fill="none" stroke="#222222" stroke-width="1.0"/>
<path d="M31.5,795.5 L31.5,778.5 Q31.5,777.5 32.5,777.5 L77.5,777.5 Q78.5,777.5 78.5,778.5 L78.5,795.5 Q78.5,796.5 77.5,796.5 L32.5,796.5 Q31.5,796.5 31.5,795.5 Z" fill="#fff" stroke="#222222" stroke-width="1.2"/>
<line x1="31.8" y1="780.5" x2="78.2" y2="780.5" stroke="#222222" stroke-width="1.0"/>
<path d="M84.5,795.5 L84.5,778.5 Q84.5,777.5 85.5,777.5 L131.5,777.5 Q132.5,777.5 132.5,778.5 L132.5,795.5 Q132.5,796.5 131.5,796.5 L85.5,796.5 Q84.5,796.5 84.5,795.5 Z" fill="#fff" stroke="#222222" stroke-width="1.2"/>
<line x1="84.8" y1="780.5" x2="132.2" y2="780.5" stroke="#222222" stroke-width="1.0"/>
<path d="M138.5,795.5 L138.5,778.5 Q138.5,777.5 139.5,777.5 L183.5,777.5 Q184.5,777.5 184.5,778.5 L184.5,795.5 Q184.5,796.5 183.5,796.5 L139.5,796.5 Q138.5,796.5 138.5,795.5 Z" fill="#fff" stroke="#222222" stroke-width="1.2"/>
<line x1="138.8" y1="780.5" x2="184.2" y2="780.5" stroke="#222222" stroke-width="1.0"/>
<ellipse cx="22.5" cy="771.9" rx="1.9" ry="1.3" fill="#222222"/>
<ellipse cx="17.5" cy="821.5" rx="1.4" ry="2.0" fill="#222222"/>
<ellipse cx="194.5" cy="771.9" rx="1.9" ry="1.3" fill="#222222"/>
<ellipse cx="199.5" cy="821.5" rx="1.4" ry="2.0" fill="#222222"/>
<g transform="translate(23.4,811.3) scale(1.0,1.0)"><path d="M0,0 L13.3,-21.4 Q14.3,-22.6 15.6,-22 Q23.5,-18.5 28.8,-14.8 Q30.6,-13.2 30.2,-11 Q28,-0.5 17.6,9.6 Q16.3,10.8 14.6,9.9 L0.8,1.5 Q-0.6,0.8 0,0 Z" fill="#fff" stroke="#222222" stroke-width="1.2"/><path d="M2.0,1.2 L14.9,-19.6" fill="none" stroke="#222222" stroke-width="1.2"/></g>
<g transform="translate(192.4,811.3) scale(-1.0,1.0)"><path d="M0,0 L13.3,-21.4 Q14.3,-22.6 15.6,-22 Q23.5,-18.5 28.8,-14.8 Q30.6,-13.2 30.2,-11 Q28,-0.5 17.6,9.6 Q16.3,10.8 14.6,9.9 L0.8,1.5 Q-0.6,0.8 0,0 Z" fill="#fff" stroke="#222222" stroke-width="1.2"/><path d="M2.0,1.2 L14.9,-19.6" fill="none" stroke="#222222" stroke-width="1.2"/></g>
<line x1="15.8" y1="856.5" x2="201" y2="856.5" stroke="#3a3a3a" stroke-width="1.1"/>
<path d="M233.5,783.5 L233.5,773.5 Q233.5,772.5 234.5,772.5 L414.5,772.5 Q415.5,772.5 415.5,773.5 L415.5,826.5 Q415.5,827.5 414.5,827.5 L248.5,827.5" fill="none" stroke="#222222" stroke-width="1.2"/>
<line x1="233.5" y1="783.5" x2="248.4" y2="783.5" stroke="#222222" stroke-width="1.2"/>
<path d="M234,784 Q241,787 248.5,787.5" fill="none" stroke="#222222" stroke-width="0.9"/>
<rect x="231.5" y="787.5" width="17" height="42" rx="1.2" fill="#d9d9d9" stroke="#222222" stroke-width="1.2"/>
<line x1="297.5" y1="772.5" x2="297.5" y2="827.5" stroke="#222222" stroke-width="1.2"/>
<line x1="351.5" y1="772.5" x2="351.5" y2="827.5" stroke="#222222" stroke-width="1.2"/>
<line x1="405.5" y1="783.5" x2="415.5" y2="783.5" stroke="#222222" stroke-width="1.2"/>
<line x1="405.5" y1="783.5" x2="405.5" y2="827.5" stroke="#222222" stroke-width="1.2"/>
<path d="M405.1,784 Q400.3,803.3 403.1,827.2" fill="none" stroke="#2a2a2a" stroke-width="1.0"/>
<path d="M295.6,783.5 L300.2,783.5 M295.6,786.5 Q297.9,783 300.2,786.5" fill="none" stroke="#222222" stroke-width="1.0"/>
<path d="M347.5,783.5 L354.6,783.5 M347.5,786.5 Q351.05,783 354.6,786.5" fill="none" stroke="#222222" stroke-width="1.0"/>
<path d="M248.5,795.5 L248.5,778.5 Q248.5,777.5 249.5,777.5 L294.5,777.5 Q295.5,777.5 295.5,778.5 L295.5,795.5 Q295.5,796.5 294.5,796.5 L249.5,796.5 Q248.5,796.5 248.5,795.5 Z" fill="#fff" stroke="#222222" stroke-width="1.2"/>
<line x1="248.8" y1="780.5" x2="295.2" y2="780.5" stroke="#222222" stroke-width="1.0"/>
<path d="M300.5,795.5 L300.5,778.5 Q300.5,777.5 301.5,777.5 L346.5,777.5 Q347.5,777.5 347.5,778.5 L347.5,795.5 Q347.5,796.5 346.5,796.5 L301.5,796.5 Q300.5,796.5 300.5,795.5 Z" fill="#fff" stroke="#222222" stroke-width="1.2"/>
<line x1="300.8" y1="780.5" x2="347.2" y2="780.5" stroke="#222222" stroke-width="1.0"/>
<path d="M354.5,795.5 L354.5,778.5 Q354.5,777.5 355.5,777.5 L401.5,777.5 Q402.5,777.5 402.5,778.5 L402.5,795.5 Q402.5,796.5 401.5,796.5 L355.5,796.5 Q354.5,796.5 354.5,795.5 Z" fill="#fff" stroke="#222222" stroke-width="1.2"/>
<line x1="354.8" y1="780.5" x2="402.2" y2="780.5" stroke="#222222" stroke-width="1.0"/>
<ellipse cx="238.5" cy="771.9" rx="1.9" ry="1.3" fill="#222222"/>
<ellipse cx="410.5" cy="771.9" rx="1.9" ry="1.3" fill="#222222"/>
<ellipse cx="415.5" cy="821.5" rx="1.4" ry="2.0" fill="#222222"/>
<g transform="translate(409.6,811.4) scale(-1.0,1.0)"><path d="M0,0 L13.3,-21.4 Q14.3,-22.6 15.6,-22 Q23.5,-18.5 28.8,-14.8 Q30.6,-13.2 30.2,-11 Q28,-0.5 17.6,9.6 Q16.3,10.8 14.6,9.9 L0.8,1.5 Q-0.6,0.8 0,0 Z" fill="#fff" stroke="#222222" stroke-width="1.2"/><path d="M2.0,1.2 L14.9,-19.6" fill="none" stroke="#222222" stroke-width="1.2"/></g>
<line x1="231" y1="857.5" x2="417.6" y2="857.5" stroke="#3a3a3a" stroke-width="1.1"/>
<rect x="494.5" y="772.5" width="69" height="84" rx="1.5" fill="none" stroke="#222222" stroke-width="1.2"/>
<line x1="494.4" y1="783.5" x2="513.6" y2="783.5" stroke="#222222" stroke-width="1.2"/>
<path d="M504.5,783.5 L504.5,827.5 L494.5,827.5" fill="none" stroke="#222222" stroke-width="1.2"/>
<path d="M505,784 Q512,798 509.5,820 Q508.5,826.5 505,827" fill="none" stroke="#333" stroke-width="0.9"/>
<line x1="560" y1="783.5" x2="563" y2="783.5" stroke="#222222" stroke-width="1.2"/>
<path d="M513.5,795.5 L513.5,778.5 Q513.5,777.5 514.5,777.5 L559.5,777.5 Q560.5,777.5 560.5,778.5 L560.5,795.5 Q560.5,796.5 559.5,796.5 L514.5,796.5 Q513.5,796.5 513.5,795.5 Z" fill="#fff" stroke="#222222" stroke-width="1.2"/>
<line x1="513.8" y1="780.5" x2="560.2" y2="780.5" stroke="#222222" stroke-width="1.0"/>
<g transform="translate(505.2,811.3) scale(1.0,1.0)"><path d="M0,0 L13.3,-21.4 Q14.3,-22.6 15.6,-22 Q23.5,-18.5 28.8,-14.8 Q30.6,-13.2 30.2,-11 Q28,-0.5 17.6,9.6 Q16.3,10.8 14.6,9.9 L0.8,1.5 Q-0.6,0.8 0,0 Z" fill="#fff" stroke="#222222" stroke-width="1.2"/><path d="M2.0,1.2 L14.9,-19.6" fill="none" stroke="#222222" stroke-width="1.2"/></g>
<ellipse cx="499.5" cy="772.3" rx="1.9" ry="1.3" fill="#222222"/>
<ellipse cx="557.8" cy="772.3" rx="1.9" ry="1.3" fill="#222222"/>
<line x1="577.5" y1="770.6" x2="577.5" y2="856.6" stroke="#555" stroke-width="1.5"/>
<line x1="493" y1="887.5" x2="565" y2="887.5" stroke="#3a3a3a" stroke-width="1.1"/>
<rect x="633.5" y="772.5" width="81" height="95" rx="1.5" fill="none" stroke="#222222" stroke-width="1.2"/>
<line x1="633.6" y1="783.5" x2="654.4" y2="783.5" stroke="#222222" stroke-width="1.2"/>
<path d="M643.5,783.5 L643.5,827.5 L633.5,827.5" fill="none" stroke="#222222" stroke-width="1.2"/>
<path d="M644.3,784 Q650.5,798 648.3,820 Q647.3,826.5 644.3,827" fill="none" stroke="#333" stroke-width="0.9"/>
<path d="M701.6,783 L714,783 M701.6,786 Q708,787 714,785" fill="none" stroke="#222222" stroke-width="0.9"/>
<path d="M654.5,795.5 L654.5,778.5 Q654.5,777.5 655.5,777.5 L700.5,777.5 Q701.5,777.5 701.5,778.5 L701.5,795.5 Q701.5,796.5 700.5,796.5 L655.5,796.5 Q654.5,796.5 654.5,795.5 Z" fill="#fff" stroke="#222222" stroke-width="1.2"/>
<line x1="654.8" y1="780.5" x2="701.2" y2="780.5" stroke="#222222" stroke-width="1.0"/>
<g transform="translate(641.6,811) scale(1.0,1.0)"><path d="M0,0 L13.3,-21.4 Q14.3,-22.6 15.6,-22 Q23.5,-18.5 28.8,-14.8 Q30.6,-13.2 30.2,-11 Q28,-0.5 17.6,9.6 Q16.3,10.8 14.6,9.9 L0.8,1.5 Q-0.6,0.8 0,0 Z" fill="#fff" stroke="#222222" stroke-width="1.2"/><path d="M2.0,1.2 L14.9,-19.6" fill="none" stroke="#222222" stroke-width="1.2"/></g>
<ellipse cx="638.6" cy="771.7" rx="1.9" ry="1.3" fill="#222222"/>
<ellipse cx="709" cy="771.7" rx="1.9" ry="1.3" fill="#222222"/>
<line x1="728.5" y1="770.4" x2="728.5" y2="868" stroke="#555" stroke-width="1.5"/>
<line x1="632" y1="898.5" x2="716" y2="898.5" stroke="#3a3a3a" stroke-width="1.1"/>
<rect x="16.5" y="996.5" width="65" height="55" rx="1.5" fill="none" stroke="#222222" stroke-width="1.2"/>
<line x1="16.5" y1="1007.5" x2="30.6" y2="1007.5" stroke="#222222" stroke-width="1.2"/>
<line x1="27.5" y1="1007.5" x2="27.5" y2="1051.5" stroke="#222222" stroke-width="1.2"/>
<path d="M27.9,1008 Q32.7,1027.3 29.9,1051.2" fill="none" stroke="#2a2a2a" stroke-width="1.0"/>
<line x1="77.6" y1="1007.5" x2="81.6" y2="1007.5" stroke="#222222" stroke-width="1.2"/>
<path d="M30.5,1019.5 L30.5,1003.5 Q30.5,1002.5 31.5,1002.5 L76.5,1002.5 Q77.5,1002.5 77.5,1003.5 L77.5,1019.5 Q77.5,1020.5 76.5,1020.5 L31.5,1020.5 Q30.5,1020.5 30.5,1019.5 Z" fill="#fff" stroke="#222222" stroke-width="1.2"/>
<line x1="30.8" y1="1005.5" x2="77.2" y2="1005.5" stroke="#222222" stroke-width="1.0"/>
<g transform="translate(23.5,1035.4) scale(1.0,1.0)"><path d="M0,0 L13.3,-21.4 Q14.3,-22.6 15.6,-22 Q23.5,-18.5 28.8,-14.8 Q30.6,-13.2 30.2,-11 Q28,-0.5 17.6,9.6 Q16.3,10.8 14.6,9.9 L0.8,1.5 Q-0.6,0.8 0,0 Z" fill="#fff" stroke="#222222" stroke-width="1.2"/><path d="M2.0,1.2 L14.9,-19.6" fill="none" stroke="#222222" stroke-width="1.2"/></g>
<ellipse cx="21.5" cy="995.8" rx="1.9" ry="1.3" fill="#222222"/>
<ellipse cx="76.5" cy="995.8" rx="1.9" ry="1.3" fill="#222222"/>
<ellipse cx="16.5" cy="1045" rx="1.4" ry="2.0" fill="#222222"/>
<ellipse cx="81.6" cy="1045" rx="1.4" ry="2.0" fill="#222222"/>
<line x1="15.5" y1="1081.5" x2="82" y2="1081.5" stroke="#3a3a3a" stroke-width="1.1"/>
<path d="M116.5,1007.5 L116.5,997.5 Q116.5,996.5 118.5,996.5 L177.5,996.5 Q178.5,996.5 178.5,997.5 L178.5,1050.5 Q178.5,1051.5 177.5,1051.5 L131.5,1051.5" fill="none" stroke="#222222" stroke-width="1.2"/>
<line x1="116.5" y1="1007.5" x2="132" y2="1007.5" stroke="#222222" stroke-width="1.2"/>
<path d="M117,1007.8 Q124,1011 131,1011.2" fill="none" stroke="#222222" stroke-width="0.9"/>
<rect x="113.5" y="1011.5" width="18" height="42" rx="1.4" fill="#d9d9d9" stroke="#222222" stroke-width="1.2"/>
<path d="M132.5,1019.5 L132.5,1002.5 Q132.5,1001.5 133.5,1001.5 L176.5,1001.5 Q177.5,1001.5 177.5,1002.5 L177.5,1019.5 Q177.5,1020.5 176.5,1020.5 L133.5,1020.5 Q132.5,1020.5 132.5,1019.5 Z" fill="#fff" stroke="#222222" stroke-width="1.2"/>
<line x1="132.8" y1="1004.5" x2="177.2" y2="1004.5" stroke="#222222" stroke-width="1.0"/>
<ellipse cx="121" cy="995.8" rx="1.9" ry="1.3" fill="#222222"/>
<ellipse cx="173.5" cy="995.8" rx="1.9" ry="1.3" fill="#222222"/>
<ellipse cx="178.6" cy="1045" rx="1.4" ry="2.0" fill="#222222"/>
<line x1="113.7" y1="1081.5" x2="179.5" y2="1081.5" stroke="#3a3a3a" stroke-width="1.1"/>
<rect x="235.5" y="994.5" width="16" height="34" rx="2.2" fill="none" stroke="#222222" stroke-width="1.2"/>
<line x1="263.5" y1="995" x2="263.5" y2="1028.75" stroke="#555" stroke-width="1.5"/>
<line x1="235.5" y1="1057.5" x2="251.25" y2="1057.5" stroke="#3a3a3a" stroke-width="1.1"/>
<rect x="315.5" y="1008.5" width="14" height="20" rx="2.2" fill="none" stroke="#222222" stroke-width="1.2"/>
<line x1="339.5" y1="1008" x2="339.5" y2="1029.5" stroke="#555" stroke-width="1.5"/>
<line x1="314.5" y1="1057.5" x2="330" y2="1057.5" stroke="#3a3a3a" stroke-width="1.1"/>
</g>
<g>
<text x="16.5" y="19.45" font-size="11.9" font-weight="bold" fill="#141414" stroke="#141414" stroke-width="0.3" textLength="105.5" lengthAdjust="spacingAndGlyphs">Cuscini schienale</text>
<text x="16.5" y="34.45" font-size="11.9" font-weight="bold" fill="#141414" stroke="#141414" stroke-width="0.3" textLength="112.25" lengthAdjust="spacingAndGlyphs">Backrest cushions</text>
<text x="17" y="52" font-size="10.0" fill="#2e2e2e" stroke="#2e2e2e" stroke-width="0.06">P</text>
<text x="79.5" y="52" font-size="10.0" fill="#2e2e2e" stroke="#2e2e2e" stroke-width="0.06">G</text>
<text x="180.5" y="68.9" font-size="9.5" fill="#2a2a2a" stroke="#2a2a2a" stroke-width="0.18" textLength="18.25" lengthAdjust="spacingAndGlyphs">480</text>
<text x="182.5" y="78" font-size="9.5" fill="#2a2a2a" stroke="#2a2a2a" stroke-width="0.18" textLength="13.5" lengthAdjust="spacingAndGlyphs">19”</text>
<text x="33.7" y="133.05" font-size="9.5" fill="#2a2a2a" stroke="#2a2a2a" stroke-width="0.18" text-anchor="middle" textLength="17.5" lengthAdjust="spacingAndGlyphs">600</text>
<text x="34" y="143" font-size="9.5" fill="#2a2a2a" stroke="#2a2a2a" stroke-width="0.18" text-anchor="middle" textLength="32" lengthAdjust="spacingAndGlyphs">23 1/2”</text>
<text x="103.75" y="133.05" font-size="9.5" fill="#2a2a2a" stroke="#2a2a2a" stroke-width="0.18" text-anchor="middle" textLength="17.5" lengthAdjust="spacingAndGlyphs">800</text>
<text x="102.75" y="143" font-size="9.5" fill="#2a2a2a" stroke="#2a2a2a" stroke-width="0.18" text-anchor="middle" textLength="29.5" lengthAdjust="spacingAndGlyphs">31 1/2”</text>
<text x="243" y="52" font-size="10.0" fill="#2e2e2e" stroke="#2e2e2e" stroke-width="0.06" textLength="14" lengthAdjust="spacingAndGlyphs">OP</text>
<text x="313.75" y="69.2" font-size="9.5" fill="#2a2a2a" stroke="#2a2a2a" stroke-width="0.18" textLength="16.75" lengthAdjust="spacingAndGlyphs">500</text>
<text x="308" y="77.5" font-size="9.5" fill="#2a2a2a" stroke="#2a2a2a" stroke-width="0.18" textLength="30.75" lengthAdjust="spacingAndGlyphs">19 3/4”</text>
<text x="257.5" y="99.8" font-size="9.5" fill="#2a2a2a" stroke="#2a2a2a" stroke-width="0.18" text-anchor="middle" textLength="17.5" lengthAdjust="spacingAndGlyphs">500</text>
<text x="257.5" y="108.5" font-size="9.5" fill="#2a2a2a" stroke="#2a2a2a" stroke-width="0.18" text-anchor="middle" textLength="30" lengthAdjust="spacingAndGlyphs">19 3/4”</text>
<text x="240.75" y="137.5" font-size="9.4" fill="#333" stroke="#333" stroke-width="0.12" textLength="78" lengthAdjust="spacingAndGlyphs">cuscino opzionale</text>
<text x="240.75" y="150.5" font-size="9.4" fill="#333" stroke="#333" stroke-width="0.12" textLength="71.25" lengthAdjust="spacingAndGlyphs">optional cushion</text>
<text x="492.3" y="70.5" font-size="9.5" fill="#2a2a2a" stroke="#2a2a2a" stroke-width="0.18" textLength="17.2" lengthAdjust="spacingAndGlyphs">620</text>
<text x="485" y="79.4" font-size="9.5" fill="#2a2a2a" stroke="#2a2a2a" stroke-width="0.18" textLength="30.2" lengthAdjust="spacingAndGlyphs">24 1/2”</text>
<text x="412.5" y="103.6" font-size="9.5" fill="#2a2a2a" stroke="#2a2a2a" stroke-width="0.18" text-anchor="middle" textLength="17" lengthAdjust="spacingAndGlyphs">600</text>
<text x="412.7" y="114.1" font-size="9.5" fill="#2a2a2a" stroke="#2a2a2a" stroke-width="0.18" text-anchor="middle" textLength="31.4" lengthAdjust="spacingAndGlyphs">23 1/2”</text>
<text x="395" y="140" font-size="9.4" fill="#333" stroke="#333" stroke-width="0.12" textLength="87.3" lengthAdjust="spacingAndGlyphs">cuscino poggiatesta</text>
<text x="395" y="154.1" font-size="9.4" fill="#333" stroke="#333" stroke-width="0.12" textLength="74.2" lengthAdjust="spacingAndGlyphs">headrest cushion</text>
<text x="540.5" y="70.5" font-size="9.4" fill="#333" stroke="#333" stroke-width="0.12" textLength="167.75" lengthAdjust="spacingAndGlyphs">Il cuscino poggiatesta può sostituire un</text>
<text x="540.5" y="81.75" font-size="9.4" fill="#333" stroke="#333" stroke-width="0.12" textLength="144" lengthAdjust="spacingAndGlyphs">cuscino schienale da l 600 o 800.</text>
<text x="540.5" y="96.75" font-size="9.4" fill="#333" stroke="#333" stroke-width="0.12" textLength="162.5" lengthAdjust="spacingAndGlyphs">The headrest cushion can replace one</text>
<text x="540.5" y="108" font-size="9.4" fill="#333" stroke="#333" stroke-width="0.12" textLength="167" lengthAdjust="spacingAndGlyphs">backrest cushion w 23 1/2”” or 31 1/2”.</text>
<text x="16.6" y="214.2" font-size="11.9" font-weight="bold" fill="#141414" stroke="#141414" stroke-width="0.3" textLength="40.9" lengthAdjust="spacingAndGlyphs">Divano</text>
<text x="16.6" y="228.8" font-size="11.9" font-weight="bold" fill="#141414" stroke="#141414" stroke-width="0.3" textLength="26.4" lengthAdjust="spacingAndGlyphs">Sofa</text>
<text x="16.6" y="246.4" font-size="10.0" fill="#2e2e2e" stroke="#2e2e2e" stroke-width="0.06" textLength="42.8" lengthAdjust="spacingAndGlyphs">2G + 2OP</text>
<text x="178.4" y="246" font-size="10.0" fill="#2e2e2e" stroke="#2e2e2e" stroke-width="0.06" textLength="44" lengthAdjust="spacingAndGlyphs">2G + 2OP</text>
<text x="353" y="245.8" font-size="10.0" fill="#2e2e2e" stroke="#2e2e2e" stroke-width="0.06" textLength="42.2" lengthAdjust="spacingAndGlyphs">3P + 2OP</text>
<text x="539.5" y="245.5" font-size="10.0" fill="#2e2e2e" stroke="#2e2e2e" stroke-width="0.06" textLength="43" lengthAdjust="spacingAndGlyphs">3G + 2OP</text>
<text x="83.3" y="329.3" font-size="9.5" fill="#2a2a2a" stroke="#2a2a2a" stroke-width="0.18" text-anchor="middle" textLength="23.5" lengthAdjust="spacingAndGlyphs">2380</text>
<text x="81.5" y="339" font-size="9.5" fill="#2a2a2a" stroke="#2a2a2a" stroke-width="0.18" text-anchor="middle" textLength="31" lengthAdjust="spacingAndGlyphs">93 3/4”</text>
<text x="251" y="329.2" font-size="9.5" fill="#2a2a2a" stroke="#2a2a2a" stroke-width="0.18" text-anchor="middle" textLength="24" lengthAdjust="spacingAndGlyphs">2625</text>
<text x="250.5" y="338.5" font-size="9.5" fill="#2a2a2a" stroke="#2a2a2a" stroke-width="0.18" text-anchor="middle" textLength="35" lengthAdjust="spacingAndGlyphs">103 1/4”</text>
<text x="433.5" y="329.6" font-size="9.5" fill="#2a2a2a" stroke="#2a2a2a" stroke-width="0.18" text-anchor="middle" textLength="23" lengthAdjust="spacingAndGlyphs">2800</text>
<text x="434.6" y="339.8" font-size="9.5" fill="#2a2a2a" stroke="#2a2a2a" stroke-width="0.18" text-anchor="middle" textLength="31.6" lengthAdjust="spacingAndGlyphs">110 1/4”</text>
<text x="630" y="328.55" font-size="9.5" fill="#2a2a2a" stroke="#2a2a2a" stroke-width="0.18" text-anchor="middle" textLength="23" lengthAdjust="spacingAndGlyphs">3340</text>
<text x="630.6" y="339.25" font-size="9.5" fill="#2a2a2a" stroke="#2a2a2a" stroke-width="0.18" text-anchor="middle" textLength="33.7" lengthAdjust="spacingAndGlyphs">131 1/2”</text>
<text x="16.6" y="409.6" font-size="11.9" font-weight="bold" fill="#141414" stroke="#141414" stroke-width="0.3" textLength="76.4" lengthAdjust="spacingAndGlyphs">Divano sx-dx</text>
<text x="16.6" y="424.6" font-size="11.9" font-weight="bold" fill="#141414" stroke="#141414" stroke-width="0.3" textLength="55.4" lengthAdjust="spacingAndGlyphs">Lt-rt sofa</text>
<text x="16.6" y="441.4" font-size="10.0" fill="#2e2e2e" stroke="#2e2e2e" stroke-width="0.06" textLength="41.4" lengthAdjust="spacingAndGlyphs">2G + 1OP</text>
<text x="179" y="442" font-size="10.0" fill="#2e2e2e" stroke="#2e2e2e" stroke-width="0.06" textLength="41" lengthAdjust="spacingAndGlyphs">2G + 1OP</text>
<text x="354.6" y="442.6" font-size="10.0" fill="#2e2e2e" stroke="#2e2e2e" stroke-width="0.06" textLength="40.6" lengthAdjust="spacingAndGlyphs">3P + 1OP</text>
<text x="542" y="442.5" font-size="10.0" fill="#2e2e2e" stroke="#2e2e2e" stroke-width="0.06" textLength="40.5" lengthAdjust="spacingAndGlyphs">3G + 1OP</text>
<text x="83.5" y="524.8" font-size="9.5" fill="#2a2a2a" stroke="#2a2a2a" stroke-width="0.18" text-anchor="middle" textLength="23" lengthAdjust="spacingAndGlyphs">2400</text>
<text x="83.5" y="534.5" font-size="9.5" fill="#2a2a2a" stroke="#2a2a2a" stroke-width="0.18" text-anchor="middle" textLength="31" lengthAdjust="spacingAndGlyphs">94 1/2”</text>
<text x="251.5" y="525.8" font-size="9.5" fill="#2a2a2a" stroke="#2a2a2a" stroke-width="0.18" text-anchor="middle" textLength="23" lengthAdjust="spacingAndGlyphs">2645</text>
<text x="250.8" y="535.5" font-size="9.5" fill="#2a2a2a" stroke="#2a2a2a" stroke-width="0.18" text-anchor="middle" textLength="34.4" lengthAdjust="spacingAndGlyphs">104 1/4”</text>
<text x="436.4" y="525.5" font-size="9.5" fill="#2a2a2a" stroke="#2a2a2a" stroke-width="0.18" text-anchor="middle" textLength="23" lengthAdjust="spacingAndGlyphs">2820</text>
<text x="436.4" y="535.5" font-size="9.5" fill="#2a2a2a" stroke="#2a2a2a" stroke-width="0.18" text-anchor="middle" textLength="16" lengthAdjust="spacingAndGlyphs">111”</text>
<text x="637" y="524.3" font-size="9.5" fill="#2a2a2a" stroke="#2a2a2a" stroke-width="0.18" text-anchor="middle" textLength="23" lengthAdjust="spacingAndGlyphs">3360</text>
<text x="637" y="534.75" font-size="9.5" fill="#2a2a2a" stroke="#2a2a2a" stroke-width="0.18" text-anchor="middle" textLength="34" lengthAdjust="spacingAndGlyphs">132 1/4”</text>
<text x="16" y="564.6" font-size="10.0" fill="#2e2e2e" stroke="#2e2e2e" stroke-width="0.06" textLength="11.2" lengthAdjust="spacingAndGlyphs">1G</text>
<text x="157.1" y="564.7" font-size="10.0" fill="#2e2e2e" stroke="#2e2e2e" stroke-width="0.06" textLength="42.4" lengthAdjust="spacingAndGlyphs">2G + 1OP</text>
<text x="360" y="564.7" font-size="10.0" fill="#2e2e2e" stroke="#2e2e2e" stroke-width="0.06" textLength="41.1" lengthAdjust="spacingAndGlyphs">3G + 1OP</text>
<text x="68.5" y="648.9" font-size="9.5" fill="#2a2a2a" stroke="#2a2a2a" stroke-width="0.18" text-anchor="middle" textLength="21" lengthAdjust="spacingAndGlyphs">1975</text>
<text x="68.5" y="658.5" font-size="9.5" fill="#2a2a2a" stroke="#2a2a2a" stroke-width="0.18" text-anchor="middle" textLength="31" lengthAdjust="spacingAndGlyphs">77 3/4”</text>
<text x="244" y="647.3" font-size="9.5" fill="#2a2a2a" stroke="#2a2a2a" stroke-width="0.18" text-anchor="middle" textLength="21" lengthAdjust="spacingAndGlyphs">3130</text>
<text x="244" y="657" font-size="9.5" fill="#2a2a2a" stroke="#2a2a2a" stroke-width="0.18" text-anchor="middle" textLength="34" lengthAdjust="spacingAndGlyphs">123 1/4”</text>
<text x="449.4" y="647.3" font-size="9.5" fill="#2a2a2a" stroke="#2a2a2a" stroke-width="0.18" text-anchor="middle" textLength="21" lengthAdjust="spacingAndGlyphs">3130</text>
<text x="449.4" y="657" font-size="9.5" fill="#2a2a2a" stroke="#2a2a2a" stroke-width="0.18" text-anchor="middle" textLength="34" lengthAdjust="spacingAndGlyphs">123 1/4”</text>
<text x="17" y="726.7" font-size="11.9" font-weight="bold" fill="#141414" stroke="#141414" stroke-width="0.3" textLength="104.4" lengthAdjust="spacingAndGlyphs">Divano composto</text>
<text x="17" y="741.8" font-size="11.9" font-weight="bold" fill="#141414" stroke="#141414" stroke-width="0.3" textLength="79" lengthAdjust="spacingAndGlyphs">Modular sofa</text>
<text x="16.3" y="761" font-size="10.0" fill="#2e2e2e" stroke="#2e2e2e" stroke-width="0.06" textLength="43.7" lengthAdjust="spacingAndGlyphs">3G + 2OP</text>
<text x="231" y="760.8" font-size="10.0" fill="#2e2e2e" stroke="#2e2e2e" stroke-width="0.06" textLength="41.6" lengthAdjust="spacingAndGlyphs">3G + 1OP</text>
<text x="108.2" y="844.3" font-size="9.5" fill="#2a2a2a" stroke="#2a2a2a" stroke-width="0.18" text-anchor="middle" textLength="24.4" lengthAdjust="spacingAndGlyphs">3340</text>
<text x="106.5" y="853.6" font-size="9.5" fill="#2a2a2a" stroke="#2a2a2a" stroke-width="0.18" text-anchor="middle" textLength="33" lengthAdjust="spacingAndGlyphs">131 1/2”</text>
<text x="16.3" y="885.7" font-size="9.4" fill="#333" stroke="#333" stroke-width="0.12" textLength="121.7" lengthAdjust="spacingAndGlyphs">terminali 1190, centrale 960</text>
<text x="16.3" y="898.3" font-size="9.4" fill="#333" stroke="#333" stroke-width="0.12" textLength="164.5" lengthAdjust="spacingAndGlyphs">end units 46 3/4”, central unit 37 3/4”</text>
<text x="324.6" y="844.1" font-size="9.5" fill="#2a2a2a" stroke="#2a2a2a" stroke-width="0.18" text-anchor="middle" textLength="24" lengthAdjust="spacingAndGlyphs">3355</text>
<text x="324.6" y="853.3" font-size="9.5" fill="#2a2a2a" stroke="#2a2a2a" stroke-width="0.18" text-anchor="middle" textLength="19" lengthAdjust="spacingAndGlyphs">132”</text>
<text x="231" y="884.8" font-size="9.4" fill="#333" stroke="#333" stroke-width="0.12" textLength="178.8" lengthAdjust="spacingAndGlyphs">terminali sx-dx 1205 - 1190, centrale 960</text>
<text x="231" y="897.4" font-size="9.4" fill="#333" stroke="#333" stroke-width="0.12">end units lt-rt 47 1/2”- 46 3/4”, central unit 37 3/4”</text>
<text x="491.6" y="726.8" font-size="11.9" font-weight="bold" fill="#141414" stroke="#141414" stroke-width="0.3" textLength="119.4" lengthAdjust="spacingAndGlyphs">Chaise longue sx-dx</text>
<text x="491.6" y="741.6" font-size="11.9" font-weight="bold" fill="#141414" stroke="#141414" stroke-width="0.3" textLength="112.4" lengthAdjust="spacingAndGlyphs">Lt-rt chaise longue</text>
<text x="495" y="760" font-size="10.0" fill="#2e2e2e" stroke="#2e2e2e" stroke-width="0.06" textLength="39" lengthAdjust="spacingAndGlyphs">1G + 1OP</text>
<text x="632.4" y="760.4" font-size="10.0" fill="#2e2e2e" stroke="#2e2e2e" stroke-width="0.06" textLength="39.2" lengthAdjust="spacingAndGlyphs">1G + 1OP</text>
<text x="591.4" y="812.55" font-size="9.5" fill="#2a2a2a" stroke="#2a2a2a" stroke-width="0.18" text-anchor="middle" textLength="21.25" lengthAdjust="spacingAndGlyphs">1550</text>
<text x="591.6" y="822.25" font-size="9.5" fill="#2a2a2a" stroke="#2a2a2a" stroke-width="0.18" text-anchor="middle" textLength="12.75" lengthAdjust="spacingAndGlyphs">61”</text>
<text x="529.5" y="873.4" font-size="9.5" fill="#2a2a2a" stroke="#2a2a2a" stroke-width="0.18" text-anchor="middle" textLength="21" lengthAdjust="spacingAndGlyphs">1285</text>
<text x="530.5" y="882.9" font-size="9.5" fill="#2a2a2a" stroke="#2a2a2a" stroke-width="0.18" text-anchor="middle" textLength="31" lengthAdjust="spacingAndGlyphs">50 1/2”</text>
<text x="493" y="919.9" font-size="9.4" fill="#333" stroke="#333" stroke-width="0.12" textLength="88" lengthAdjust="spacingAndGlyphs">anche uso terminale</text>
<text x="493" y="933.9" font-size="9.4" fill="#333" stroke="#333" stroke-width="0.12" textLength="90.6" lengthAdjust="spacingAndGlyphs">also used as end unit</text>
<text x="745.2" y="819.8" font-size="9.5" fill="#2a2a2a" stroke="#2a2a2a" stroke-width="0.18" text-anchor="middle" textLength="21.6" lengthAdjust="spacingAndGlyphs">1750</text>
<text x="746.6" y="829.5" font-size="9.5" fill="#2a2a2a" stroke="#2a2a2a" stroke-width="0.18" text-anchor="middle" textLength="14" lengthAdjust="spacingAndGlyphs">69”</text>
<text x="676" y="884" font-size="9.5" fill="#2a2a2a" stroke="#2a2a2a" stroke-width="0.18" text-anchor="middle" textLength="22" lengthAdjust="spacingAndGlyphs">1500</text>
<text x="676" y="894.4" font-size="9.5" fill="#2a2a2a" stroke="#2a2a2a" stroke-width="0.18" text-anchor="middle" textLength="14.4" lengthAdjust="spacingAndGlyphs">59”</text>
<text x="632.4" y="928.9" font-size="9.4" fill="#333" stroke="#333" stroke-width="0.12" textLength="87.6" lengthAdjust="spacingAndGlyphs">anche uso terminale</text>
<text x="632.4" y="942.1" font-size="9.4" fill="#333" stroke="#333" stroke-width="0.12" textLength="90.6" lengthAdjust="spacingAndGlyphs">also used as end unit</text>
<text x="16.6" y="954.2" font-size="11.9" font-weight="bold" fill="#141414" stroke="#141414" stroke-width="0.3" textLength="113.7" lengthAdjust="spacingAndGlyphs">Lounge chair sx-dx</text>
<text x="16.6" y="969" font-size="11.9" font-weight="bold" fill="#141414" stroke="#141414" stroke-width="0.3" textLength="105.2" lengthAdjust="spacingAndGlyphs">Lt-rt lounge chair</text>
<text x="16.2" y="984.5" font-size="10.0" fill="#2e2e2e" stroke="#2e2e2e" stroke-width="0.06" textLength="39.7" lengthAdjust="spacingAndGlyphs">1G + 1OP</text>
<text x="114.2" y="984.5" font-size="10.0" fill="#2e2e2e" stroke="#2e2e2e" stroke-width="0.06" textLength="9.9" lengthAdjust="spacingAndGlyphs">1G</text>
<text x="48.8" y="1068" font-size="9.5" fill="#2a2a2a" stroke="#2a2a2a" stroke-width="0.18" text-anchor="middle" textLength="21" lengthAdjust="spacingAndGlyphs">1220</text>
<text x="48.8" y="1077.7" font-size="9.5" fill="#2a2a2a" stroke="#2a2a2a" stroke-width="0.18" text-anchor="middle" textLength="14" lengthAdjust="spacingAndGlyphs">48”</text>
<text x="148" y="1068" font-size="9.5" fill="#2a2a2a" stroke="#2a2a2a" stroke-width="0.18" text-anchor="middle" textLength="21" lengthAdjust="spacingAndGlyphs">1240</text>
<text x="148" y="1077.7" font-size="9.5" fill="#2a2a2a" stroke="#2a2a2a" stroke-width="0.18" text-anchor="middle" textLength="31" lengthAdjust="spacingAndGlyphs">48 3/4”</text>
<text x="232.5" y="954.45" font-size="11.9" font-weight="bold" fill="#141414" stroke="#141414" stroke-width="0.3" textLength="108.75" lengthAdjust="spacingAndGlyphs">Vassoio opzionale</text>
<text x="232.5" y="968.95" font-size="11.9" font-weight="bold" fill="#141414" stroke="#141414" stroke-width="0.3" textLength="78" lengthAdjust="spacingAndGlyphs">Optional tray</text>
<text x="272.5" y="1009.1" font-size="9.5" fill="#2a2a2a" stroke="#2a2a2a" stroke-width="0.18" textLength="17.5" lengthAdjust="spacingAndGlyphs">600</text>
<text x="266.25" y="1019.25" font-size="9.5" fill="#2a2a2a" stroke="#2a2a2a" stroke-width="0.18" textLength="30" lengthAdjust="spacingAndGlyphs">23 1/2”</text>
<text x="244.4" y="1043.55" font-size="9.5" fill="#2a2a2a" stroke="#2a2a2a" stroke-width="0.18" text-anchor="middle" textLength="16.25" lengthAdjust="spacingAndGlyphs">250</text>
<text x="245.25" y="1053" font-size="9.5" fill="#2a2a2a" stroke="#2a2a2a" stroke-width="0.18" text-anchor="middle" textLength="25.5" lengthAdjust="spacingAndGlyphs">9 3/4”</text>
<text x="347.5" y="1016.3" font-size="9.5" fill="#2a2a2a" stroke="#2a2a2a" stroke-width="0.18" textLength="17.5" lengthAdjust="spacingAndGlyphs">360</text>
<text x="342.5" y="1025.7" font-size="9.5" fill="#2a2a2a" stroke="#2a2a2a" stroke-width="0.18" textLength="28.75" lengthAdjust="spacingAndGlyphs">10 1/4”</text>
<text x="323.25" y="1043.55" font-size="9.5" fill="#2a2a2a" stroke="#2a2a2a" stroke-width="0.18" text-anchor="middle" textLength="17.5" lengthAdjust="spacingAndGlyphs">250</text>
<text x="323.4" y="1053" font-size="9.5" fill="#2a2a2a" stroke="#2a2a2a" stroke-width="0.18" text-anchor="middle" textLength="25.75" lengthAdjust="spacingAndGlyphs">9 3/4”</text>
<text x="232" y="1084.25" font-size="9.4" fill="#333" stroke="#333" stroke-width="0.12" textLength="170" lengthAdjust="spacingAndGlyphs">per utilizzo su bracciolo Slim o mensola</text>
<text x="232" y="1097.5" font-size="9.4" fill="#333" stroke="#333" stroke-width="0.12" textLength="132.5" lengthAdjust="spacingAndGlyphs">to be used on Slim arm or shelf</text>
<text x="564.3" y="1082.7" font-size="9.6" font-weight="bold" fill="#1e1e1e" stroke="#1e1e1e" stroke-width="0.25" textLength="13.9" lengthAdjust="spacingAndGlyphs">NB</text>
<text x="564.3" y="1099.4" font-size="9.4" fill="#333" stroke="#333" stroke-width="0.12" textLength="213.9" lengthAdjust="spacingAndGlyphs">Divano privo di giunzioni, liberamente aggregabile.</text>
<text x="564.3" y="1114" font-size="9.4" fill="#333" stroke="#333" stroke-width="0.12" textLength="216.5" lengthAdjust="spacingAndGlyphs">Sofa without joints, allowing combination freedom.</text>
</g>
</svg>
</body></html>
